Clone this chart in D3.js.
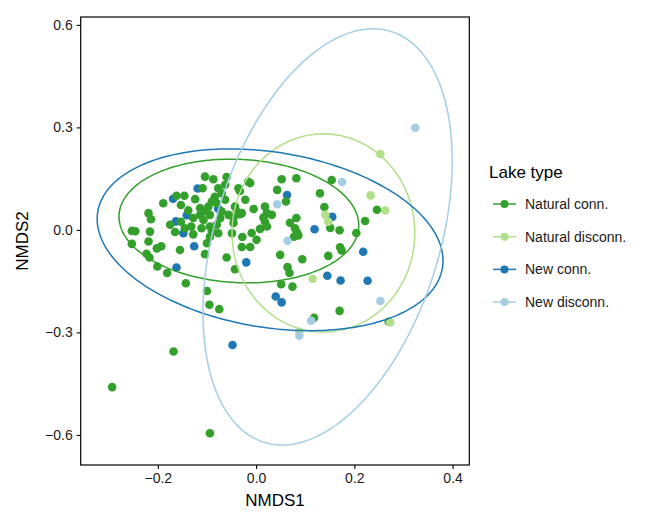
<!DOCTYPE html>
<html>
<head>
<meta charset="utf-8">
<script src="https://cdn.jsdelivr.net/npm/d3@7"></script>
<style>
  html, body { margin: 0; padding: 0; background: #fff; }
  svg { display: block; font-family: "Liberation Sans", Arial, Helvetica, sans-serif; }
</style>
</head>
<body>
<svg id="chart" width="646" height="512"></svg>
<script>
// ---------------- data ----------------
const groups = ["Natural conn.", "Natural disconn.", "New conn.", "New disconn."];
const groupColors = ["#33a02c", "#b2df8a", "#1f78b4", "#a6cee3"];
const xTicks = [-0.2, 0.0, 0.2, 0.4];
const yTicks = [-0.6, -0.3, 0.0, 0.3, 0.6];

const naturalConn = [
  [-0.253,-0.003],[-0.246,-0.004],[-0.253,-0.041],[-0.219,0.049],[-0.214,0.031],[-0.216,-0.005],
  [-0.219,-0.034],[-0.202,-0.054],[-0.193,-0.048],[-0.223,-0.070],[-0.217,-0.081],[-0.201,-0.107],
  [-0.181,-0.126],[-0.143,-0.156],[-0.189,0.078],[-0.162,0.100],[-0.146,0.100],[-0.153,0.073],
  [-0.124,0.090],[-0.175,0.015],[-0.165,-0.006],[-0.153,0.024],[-0.145,0.005],[-0.128,0.035],
  [-0.132,0.010],[-0.128,-0.013],[-0.138,0.057],[-0.155,-0.059],[-0.114,0.064],[-0.107,0.054],
  [-0.109,0.122],[-0.104,0.156],[-0.087,0.148],[-0.060,0.155],[-0.077,0.122],[-0.070,0.107],
  [-0.084,0.097],[-0.063,0.132],[-0.090,0.083],[-0.080,0.078],[-0.097,0.068],[-0.114,0.044],
  [-0.094,0.044],[-0.063,0.088],[-0.070,0.054],[-0.056,0.044],[-0.073,0.034],[-0.080,0.015],
  [-0.043,0.068],[-0.039,0.054],[-0.046,0.036],[-0.033,0.046],[-0.046,0.020],[-0.036,0.122],
  [-0.033,0.114],[-0.107,0.029],[-0.111,0.005],[-0.094,0.010],[-0.090,-0.005],[-0.077,-0.010],
  [-0.094,-0.020],[-0.049,-0.010],[-0.100,-0.039],[-0.104,-0.071],[-0.060,-0.081],[-0.043,-0.115],
  [-0.100,-0.179],[-0.095,-0.219],[-0.075,-0.232],[-0.022,0.088],[-0.029,0.049],[-0.028,-0.021],
  [-0.029,-0.050],[-0.016,0.141],[-0.012,0.137],[-0.005,0.061],[0.018,0.068],[0.022,0.049],
  [0.015,0.036],[0.032,0.044],[0.018,0.024],[0.022,0.010],[0.008,0.003],[-0.009,-0.009],
  [0.001,-0.029],[-0.012,-0.050],[0.043,0.117],[0.052,0.148],[0.082,0.151],[0.154,0.146],
  [0.061,0.083],[0.130,0.107],[0.139,0.067],[0.246,0.059],[0.222,0.026],[0.170,-0.001],
  [0.151,0.006],[0.204,-0.009],[0.069,0.021],[0.082,0.035],[0.079,0.005],[0.083,-0.007],
  [0.086,-0.016],[0.077,-0.020],[0.049,-0.073],[0.094,-0.086],[0.147,-0.076],[0.171,-0.051],
  [0.174,-0.060],[0.064,-0.109],[0.068,-0.126],[0.051,-0.159],[0.074,-0.166],[0.118,-0.257],
  [0.170,-0.237],[0.270,-0.269],[-0.293,-0.460],[-0.168,-0.356],[-0.094,-0.595]
];
const naturalDisconn = [
  [0.253,0.222],[0.233,0.101],[0.263,0.057],[0.141,0.044],[0.147,0.024],[0.115,-0.143],
  [0.088,-0.298],[0.273,-0.271]
];
const newConn = [
  [-0.119,0.121],[-0.169,0.091],[-0.141,0.043],[-0.163,0.025],[-0.148,-0.010],[-0.126,-0.048],
  [-0.162,-0.110],[-0.077,0.062],[-0.020,-0.095],[0.063,0.102],[0.155,0.038],[0.119,0.002],
  [0.218,-0.064],[0.145,-0.134],[0.172,-0.148],[0.227,-0.149],[0.040,-0.195],[0.052,-0.212],
  [-0.048,-0.337]
];
const newDisconn = [
  [0.324,0.299],[0.175,0.140],[0.043,0.075],[0.064,-0.032],[0.253,-0.208],[0.112,-0.266],
  [0.088,-0.310]
];

// ellipse parameters per group: centre, half extents, and k (relative y offset at rightmost point)
const ellipseCx = [-0.035, 0.137, 0.0285, 0.1456];
const ellipseCy = [0.026, -0.009, -0.029, -0.0205];
const ellipseRx = [0.244, 0.186, 0.352, 0.2536];
const ellipseRy = [0.181, 0.290, 0.266, 0.609];
const ellipseK  = [-0.07, 0.0, -0.23, 0.365];

// ---------------- layout ----------------
const svg = d3.select("#chart");
const x = d3.scaleLinear().domain([-0.357, 0.434]).range([80.7, 469.3]);
const y = d3.scaleLinear().domain([-0.688, 0.623]).range([465, 17]);

svg.append("defs").append("clipPath").attr("id", "clip")
  .append("rect").attr("x", 80.7).attr("y", 17).attr("width", 388.6).attr("height", 448);

const plot = svg.append("g").attr("clip-path", "url(#clip)");

const pointSets = [naturalConn, naturalDisconn, newConn, newDisconn];
const drawOrder = [2, 0, 1, 3];
drawOrder.forEach(gi => {
  plot.append("g").selectAll("circle")
    .data(pointSets[gi]).enter().append("circle")
    .attr("cx", d => x(d[0])).attr("cy", d => y(d[1]))
    .attr("r", 4.3).attr("fill", groupColors[gi]);
});

// ellipses
const line = d3.line().x(d => x(d[0])).y(d => y(d[1]));
groups.forEach((g, i) => {
  const k = ellipseK[i], s = Math.sqrt(1 - k * k);
  const pts = d3.range(0, 201).map(j => {
    const t = j / 200 * 2 * Math.PI;
    return [ellipseCx[i] + ellipseRx[i] * Math.cos(t),
            ellipseCy[i] + ellipseRy[i] * (k * Math.cos(t) + s * Math.sin(t))];
  });
  plot.append("path").attr("d", line(pts)).attr("fill", "none")
    .attr("stroke", groupColors[i]).attr("stroke-width", 1.5);
});

// panel border
svg.append("rect").attr("x", 80.7).attr("y", 17).attr("width", 388.6).attr("height", 448)
  .attr("fill", "none").attr("stroke", "#000").attr("stroke-width", 1.2);

// axes
const fmt = d3.format(".1f");
const xAxis = svg.append("g").attr("transform", "translate(0,465)")
  .call(d3.axisBottom(x).tickValues(xTicks).tickFormat(fmt).tickSize(4).tickPadding(4));
const yAxis = svg.append("g").attr("transform", "translate(80.7,0)")
  .call(d3.axisLeft(y).tickValues(yTicks).tickFormat(fmt).tickSize(4).tickPadding(4));
[xAxis, yAxis].forEach(a => {
  a.select(".domain").remove();
  a.selectAll("line").attr("stroke", "#000").attr("stroke-width", 1.1);
  a.selectAll("text").attr("fill", "#1a1a1a").style("font-size", "14px")
    .style("font-family", "'Liberation Sans', Arial, sans-serif");
});

svg.append("text").attr("x", 275).attr("y", 506).attr("text-anchor", "middle")
  .style("font-size", "17px").attr("fill", "#000").text("NMDS1");
svg.append("text").attr("transform", "translate(28,241) rotate(-90)").attr("text-anchor", "middle")
  .style("font-size", "17px").attr("fill", "#000").text("NMDS2");

// legend
const legend = svg.append("g").attr("transform", "translate(489,0)");
legend.append("text").attr("x", 0).attr("y", 178).style("font-size", "17px").attr("fill", "#000").text("Lake type");
groups.forEach((g, i) => {
  const yy = 204 + i * 32.7;
  legend.append("line").attr("x1", 4).attr("x2", 27).attr("y1", yy).attr("y2", yy)
    .attr("stroke", groupColors[i]).attr("stroke-width", 1.5);
  legend.append("circle").attr("cx", 15.5).attr("cy", yy).attr("r", 4).attr("fill", groupColors[i]);
  legend.append("text").attr("x", 36).attr("y", yy + 5).style("font-size", "14px").attr("fill", "#1a1a1a").text(g);
});
</script>
</body>
</html>
